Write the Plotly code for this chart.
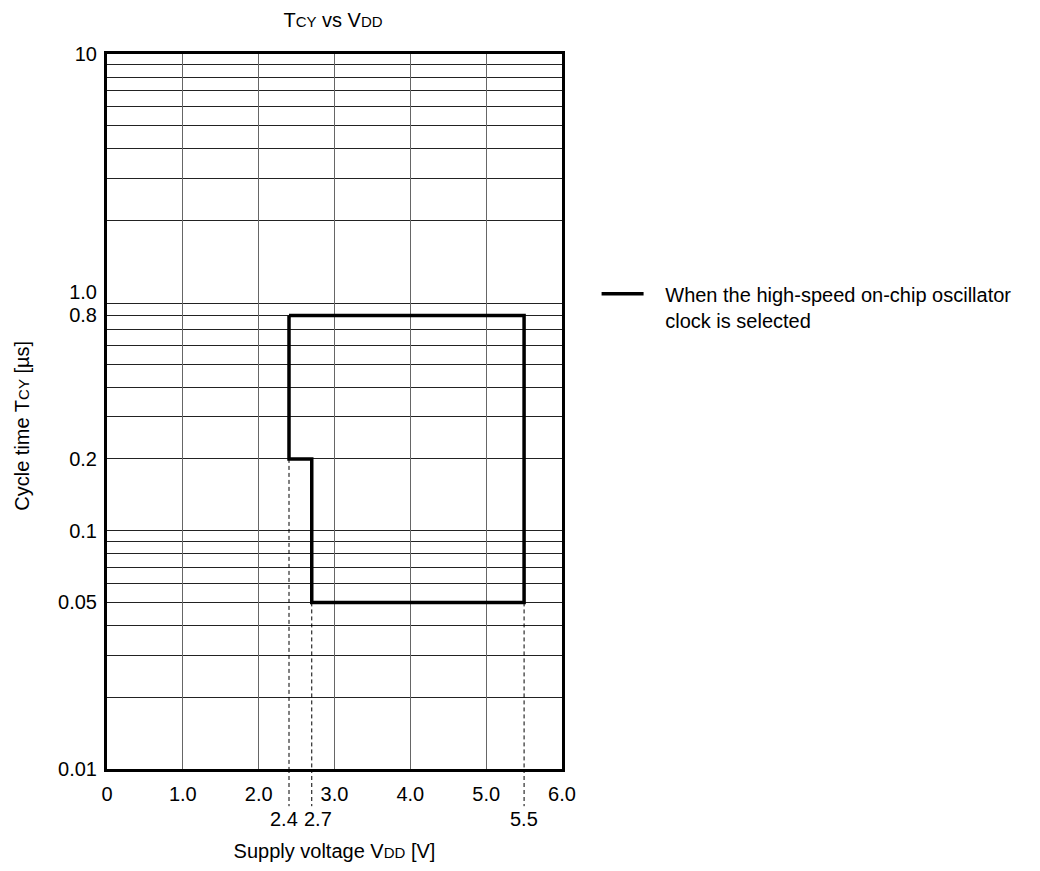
import plotly.graph_objects as go

# ---- data ----
boundary_vdd = [2.4, 2.4, 2.7, 2.7, 5.5, 5.5, 2.4]
boundary_tcy = [0.8, 0.2, 0.2, 0.05, 0.05, 0.8, 0.8]

guide_vdd = [2.4, 2.7, 5.5]          # dashed drop lines
guide_top = [0.2, 0.05, 0.05]        # where each dashed line starts
guide_labels = ["2.4", "2.7", "5.5"]

x_tickvals = [0, 1, 2, 3, 4, 5, 6]
x_ticktext = ["0", "1.0", "2.0", "3.0", "4.0", "5.0", "6.0"]
y_tickvals = [0.01, 0.05, 0.1, 0.2, 0.8, 1.0, 10]
y_ticktext = ["0.01", "0.05", "0.1", "0.2", "0.8", "1.0", "10"]
y_gridvals = [0.02, 0.03, 0.04, 0.05, 0.06, 0.07, 0.08, 0.09, 0.1,
              0.2, 0.3, 0.4, 0.5, 0.6, 0.7, 0.8, 0.9,
              2, 3, 4, 5, 6, 7, 8, 9]

# style: horizontal nudges (px) of the second-row labels so they do not collide
guide_label_shift = [-5, 6, 0]

NB = "\u00a0\u00a0\u00a0"
legend_text = NB + "When the high-speed on-chip oscillator<br>" + NB + "clock is selected"

FONT = "Liberation Sans, Arial, sans-serif"
SMALL = "<span style='font-size:15px'>{}</span>"

fig = go.Figure()

# dashed guide lines inside the plot
for v, t in zip(guide_vdd, guide_top):
    fig.add_trace(go.Scatter(
        x=[v, v], y=[t, 0.01], mode="lines",
        line=dict(color="black", width=1, dash="4px,3px"),
        showlegend=False, hoverinfo="skip"))

fig.add_trace(go.Scatter(
    x=boundary_vdd, y=boundary_tcy, mode="lines",
    line=dict(color="black", width=3.5),
    name=legend_text, showlegend=True))

# dashed extensions below the axis + second-row labels
for v, lab, sh in zip(guide_vdd, guide_labels, guide_label_shift):
    fig.add_shape(type="line", xref="x", yref="paper", x0=v, x1=v, y0=0, y1=-0.052,
                  line=dict(color="black", width=1, dash="4px,3px"))
    fig.add_annotation(x=v, xref="x", y=-0.07, yref="paper", text=lab,
                       showarrow=False, yanchor="middle", xanchor="center", xshift=sh,
                       font=dict(size=20, color="black", family=FONT))

# y-axis title
fig.add_annotation(x=-0.187, xref="paper", y=0.48, yref="paper",
                   text="Cycle time T" + SMALL.format("CY") + " [µs]",
                   textangle=-90, showarrow=False, xanchor="center", yanchor="middle",
                   font=dict(size=20, color="black", family=FONT))

fig.update_layout(
    width=1040, height=871,
    margin=dict(l=107, r=478, t=54, b=100),
    paper_bgcolor="white", plot_bgcolor="white",
    font=dict(family=FONT, size=20, color="black"),
    title=dict(text="T" + SMALL.format("CY") + " vs V" + SMALL.format("DD"),
               x=333 / 1040, xanchor="center", y=1 - 20 / 871, yanchor="middle",
               font=dict(size=20, family=FONT, color="black")),
    showlegend=True,
    legend=dict(x=1.076, xanchor="left", y=0.692, yanchor="top", valign="top",
                font=dict(size=20, family=FONT, color="black"),
                bgcolor="rgba(0,0,0,0)", itemwidth=42),
)

fig.update_xaxes(
    range=[0, 6], tickvals=x_tickvals, ticktext=x_ticktext,
    showgrid=True, gridcolor="#666", gridwidth=1,
    showline=True, linecolor="black", linewidth=3, mirror=True,
    ticks="", ticklabelstandoff=5, zeroline=False,
    title=dict(text="Supply voltage V" + SMALL.format("DD") + " [V]", standoff=40,
               font=dict(size=20, family=FONT)),
)
fig.update_yaxes(
    type="log", range=[-2, 1], tickvals=y_tickvals, ticktext=y_ticktext,
    showgrid=False,
    minor=dict(tickvals=y_gridvals, showgrid=True, gridcolor="#222", gridwidth=1, ticks=""),
    showline=True, linecolor="black", linewidth=3, mirror=True,
    ticks="", ticklabelstandoff=3, zeroline=False,
)

fig.write_html("out.html", config={"displayModeBar": False},
               post_script="document.body.style.margin='0';")
